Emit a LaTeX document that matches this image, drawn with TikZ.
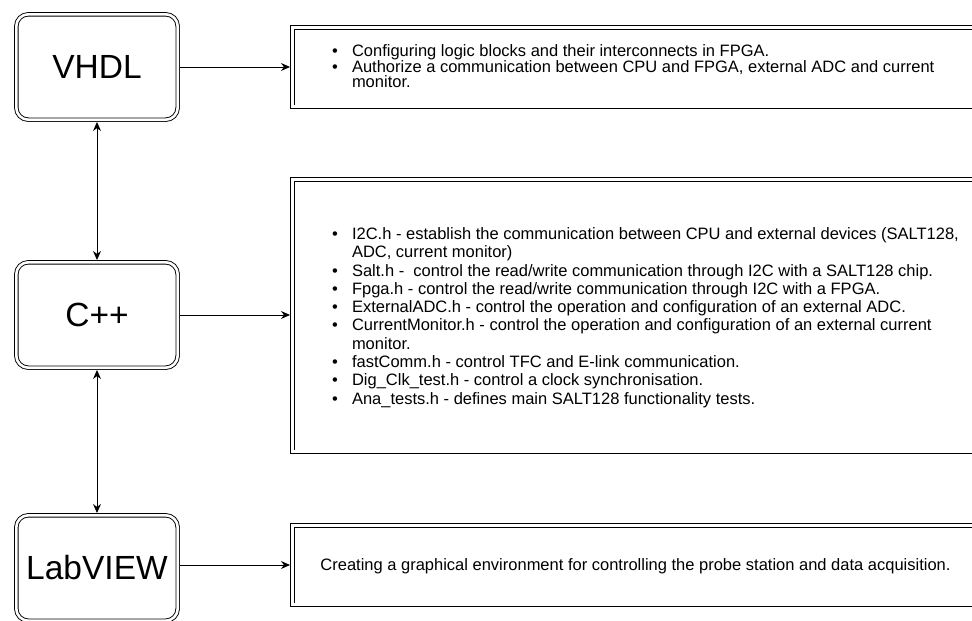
\documentclass[tikz,border=0pt]{standalone}
\usepackage{fontspec}
\setmainfont{Liberation Sans}
\usetikzlibrary{arrows.meta}
\newcommand\myitem{\makebox[20pt][l]{\textbullet}}
\newcommand\myind{\hspace*{20pt}}
\tikzset{
  langbox/.style={draw, double, double distance=2.6pt, line width=0.9pt, rounded corners=12pt,
    minimum width=161.4pt, minimum height=105.4pt, inner sep=0pt, outer sep=0pt,
    font=\fontsize{33.5}{36}\selectfont},
  descbox/.style={draw, double, double distance=2.6pt, line width=0.9pt,
    minimum width=720pt, inner sep=0pt, outer sep=0pt, anchor=west},
  desctext/.style={inner sep=0pt, outer sep=0pt, align=left, anchor=west},
  tip/.tip={Stealth[length=9pt,width=8pt]},
  conn/.style={line width=1pt, -tip, shorten >=2.3pt, shorten <=2.3pt},
  biconn/.style={line width=1pt, tip-tip, shorten >=2.3pt, shorten <=2.3pt}
}
\begin{document}
\begin{tikzpicture}[x=1pt, y=-1pt]
\useasboundingbox (0,0) rectangle (972,621);
\clip (0,0) rectangle (972,621);
\fill[white] (0,0) rectangle (972,621);

% left language boxes
\node[langbox] (vhdl) at (97,67) {VHDL};
\node[langbox] (cpp) at (97,315) {\raisebox{-3pt}{C++}};
\node[langbox] (lab) at (97,568) {\raisebox{-2pt}{LabVIEW}};

% right description boxes
\node[descbox, minimum height=79.4pt] (d1) at (292.3,67) {};
\node[descbox, minimum height=272.4pt] (d2) at (292.3,315.5) {};
\node[descbox, minimum height=79.4pt] (d3) at (292.3,565) {};

% texts
\node[desctext, font=\fontsize{16.5}{15}\selectfont] (t1) at (332,66) {%
\myitem Configuring logic blocks and their interconnects in FPGA.\\
\myitem Authorize a communication between CPU and FPGA, external ADC and current\\
\myind monitor.};

\node[desctext, font=\fontsize{16.5}{18.3}\selectfont] (t2) at (332,317.5) {%
\myitem I2C.h - establish the communication between CPU and external devices (SALT128,\\
\myind ADC, current monitor)\\
\myitem Salt.h -\ \ control the read/write communication through I2C with a SALT128 chip.\\
\myitem Fpga.h - control the read/write communication through I2C with a FPGA.\\
\myitem ExternalADC.h - control the operation and configuration of an external ADC.\\
\myitem CurrentMonitor.h - control the operation and configuration of an external current\\
\myind monitor.\\
\myitem fastComm.h - control TFC and E-link communication.\\
\myitem Dig\_Clk\_test.h - control a clock synchronisation.\\
\myitem Ana\_tests.h - defines main SALT128 functionality tests.};

\node[inner sep=0pt, font=\fontsize{16.5}{20}\selectfont] (t3) at (635.5,566)
  {Creating a graphical environment for controlling the probe station and data acquisition.};

% connectors
\draw[conn] (vhdl.east) -- (vhdl.east -| d1.west);
\draw[conn] (cpp.east) -- (cpp.east -| d2.west);
\draw[conn] (lab.east |- d3.west) -- (d3.west);
\draw[biconn] (vhdl.south) -- (cpp.north);
\draw[biconn] (cpp.south) -- (lab.north);
\end{tikzpicture}
\end{document}
